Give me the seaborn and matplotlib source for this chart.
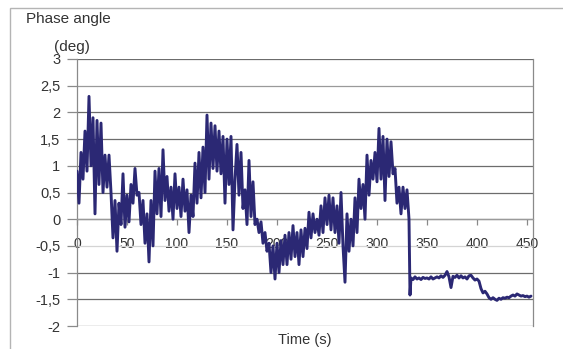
import numpy as np
import pandas as pd
import matplotlib
matplotlib.use("Agg")
import matplotlib.pyplot as plt
import seaborn as sns
from matplotlib.ticker import FuncFormatter
from matplotlib.patches import Rectangle

# Sample times (s): 2 s steps, the step change near 333 s, then 2 s steps again
time_s = list(range(0, 334, 2)) + [333, 334] + list(range(336, 456, 2))

# Phase angle (deg) per sample
phase_active = [
    0.9, 0.3, 1.25, 0.75, 1.65, 0.9, 2.3, 1.0, 1.9, 0.1,
    1.85, 0.65, 1.8, 0.5, 1.2, 0.6, 1.2, 0.5, -0.35, 0.35,
    -0.6, 0.3, -0.1, 0.85, -0.15, 0.45, -0.05, 0.65, 0.3, 0.95,
    0.45, 0.5, -0.1, 0.35, -0.45, 0.1, -0.8, 0.35, -0.5, 0.9,
    0.1, 0.95, 0.05, 1.3, 0.35, 0.8, 0.15, 0.6, 0.0, 0.85,
    0.2, 0.6, 0.05, 0.75, 0.15, 0.55, -0.25, 0.45, 0.05, 1.05,
    0.3, 1.25, 0.4, 1.35, 0.5, 1.95, 0.75, 1.8, 0.95, 1.75,
    0.9, 1.65, 0.85, 1.55, 0.3, 1.5, 0.65, 1.55, -0.2, 0.75,
    1.4, 0.45, 1.25, 0.2, 0.55, -0.1, 1.1, 0.05, 0.7, -0.1,
    0.0, -0.25, -0.05, -0.45, -0.25, -0.6, -0.45, -1.0, -0.5, -1.12,
    -0.45, -1.0, -0.4, -0.85, -0.3, -0.85, -0.25, -0.75, -0.12, -0.7,
    -0.25, -0.85, -0.2, -0.7, -0.17, -0.55, 0.13, -0.35, 0.1, -0.25,
    0.0, -0.3, 0.25, -0.25, 0.4, -0.1, 0.45, -0.2, 0.4, -0.25,
    0.25, -0.45, 0.5, -0.5, -1.18, 0.1, -0.6, 0.0, -0.5, 0.4,
    -0.25, 0.75, 0.2, 0.65, 0.0, 1.2, 0.45, 1.1, 0.75, 1.25,
    0.7, 1.7, 0.75, 1.55, 0.35, 1.5, 0.8, 1.45, 0.85, 0.95,
    0.3, 0.6, 0.1, 0.6, 0.2, 0.55, 0.0,
]
phase_step = [-1.42, -1.1]
phase_settled = [
    -1.13, -1.08, -1.12, -1.1, -1.13, -1.09, -1.11, -1.1, -1.12, -1.08,
    -1.12, -1.1, -1.08, -1.1, -1.06, -1.09, -1.05, -0.98, -1.08, -1.28,
    -1.07, -1.09, -1.05, -1.1, -1.06, -1.1, -1.08, -1.12, -1.06, -1.05,
    -1.1, -1.14, -1.12, -1.16, -1.3, -1.38, -1.35, -1.4, -1.47, -1.5,
    -1.47, -1.5, -1.52, -1.48, -1.5, -1.47, -1.48, -1.46, -1.47, -1.44,
    -1.42, -1.44, -1.4, -1.42, -1.44, -1.43, -1.45, -1.44, -1.46, -1.44,
]
phase_deg = phase_active + phase_step + phase_settled

x_ticks = [0, 50, 100, 150, 200, 250, 300, 350, 400, 450]
y_ticks = [-2, -1.5, -1, -0.5, 0, 0.5, 1, 1.5, 2, 2.5, 3]

df = pd.DataFrame({"Time (s)": time_s, "Phase angle": phase_deg})

sns.set_theme(style="white")
plt.rcParams["font.family"] = ["Liberation Sans", "DejaVu Sans"]

W, H = 563, 349
fig = plt.figure(figsize=(W / 100, H / 100), dpi=100)
ax = fig.add_axes([77 / W, 1 - 326 / H, (533 - 77) / W, (326 - 59) / H])

# horizontal grid
for v in y_ticks:
    col = "#6c6c6c"
    if v == -0.5:
        col = "#d4d4d4"
    elif v == 2.5:
        col = "#9a9a9a"
    ax.axhline(v, color=col, lw=0.9, zorder=1)

sns.lineplot(data=df, x="Time (s)", y="Phase angle", ax=ax, sort=False,
             estimator=None, color="#2b2874", lw=2.1, zorder=3)

ax.set_xlim(0, 456)
ax.set_ylim(-2, 3)

for side in ["left", "right"]:
    ax.spines[side].set_visible(True)
    ax.spines[side].set_color("#8a8a8a")
    ax.spines[side].set_linewidth(0.9)
ax.spines["top"].set_visible(False)
ax.spines["bottom"].set_position(("data", 0))
ax.spines["bottom"].set_color("#9a9a9a")
ax.spines["bottom"].set_linewidth(0.9)

ax.set_xticks(x_ticks)
ax.set_yticks(y_ticks)
ax.yaxis.set_major_formatter(FuncFormatter(lambda v, p: f"{v:g}".replace(".", ",")))
ax.tick_params(axis="x", direction="out", length=4, width=0.9, color="#8a8a8a",
               pad=9, labelsize=10, labelcolor="#333333")
ax.tick_params(axis="y", direction="out", length=7, width=0.9, color="#8a8a8a",
               pad=5, labelsize=10.5, labelcolor="#333333", left=True)
ax.xaxis.set_ticks_position("bottom")
ax.yaxis.set_ticks_position("left")
ax.set_xlabel("")
ax.set_ylabel("")

fig.text(305 / W, 1 - 340 / H, "Time (s)", ha="center", va="center",
         fontsize=10.5, color="#333333")
fig.text(68 / W, 1 - 19 / H, "Phase angle", ha="center", va="center",
         fontsize=11, color="#333333")
fig.text(72 / W, 1 - 47 / H, "(deg)", ha="center", va="center",
         fontsize=11, color="#333333")

# outer chart frame
fig.patches.append(Rectangle((10 / W, -0.1), 1.2, 1 - 8 / H + 0.1,
                             transform=fig.transFigure, fill=False,
                             edgecolor="#b4b4b4", lw=1.0))

fig.savefig("out.png", dpi=100, facecolor="white")
